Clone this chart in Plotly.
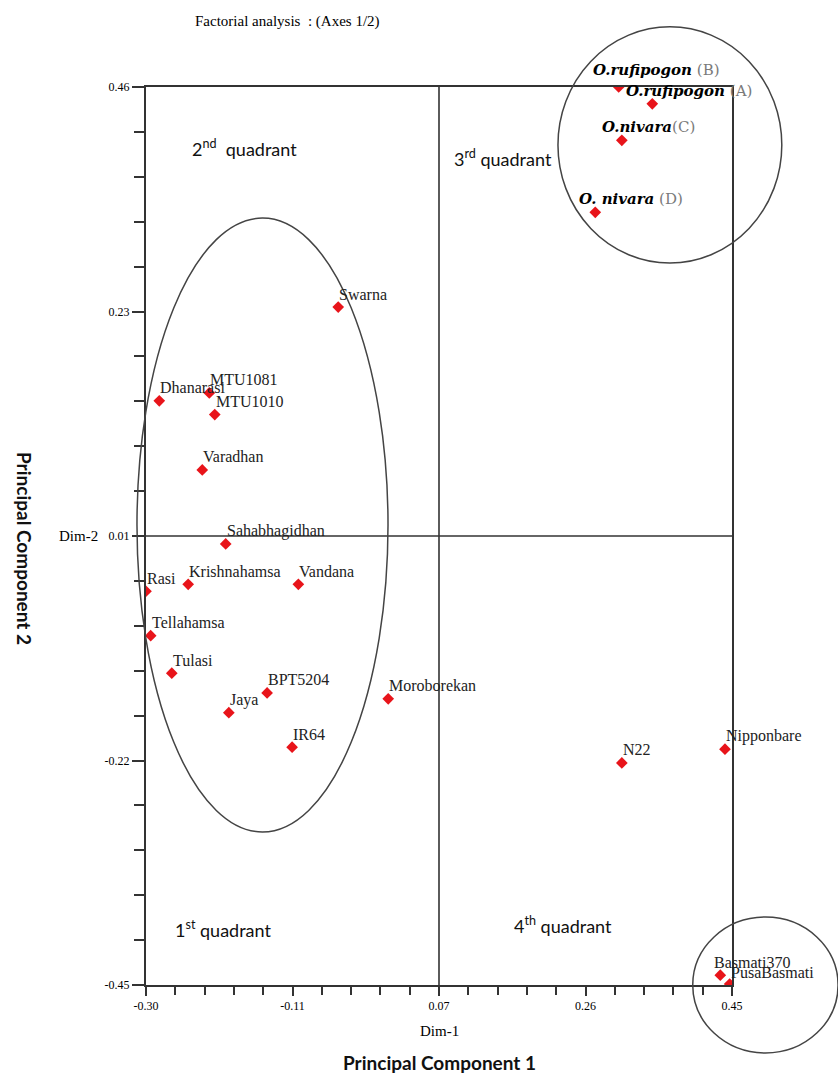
import plotly.graph_objects as go

# ---------------- data ----------------
genotypes = ["O.rufipogon (B)", "O.rufipogon (A)", "O.nivara (C)", "O. nivara (D)",
             "Swarna", "Dhanarasi", "MTU1081", "MTU1010", "Varadhan", "Sahabhagidhan",
             "Krishnahamsa", "Vandana", "Rasi", "Tellahamsa", "Tulasi", "BPT5204",
             "Jaya", "IR64", "Moroborekan", "N22", "Nipponbare", "Basmati370", "PusaBasmati"]
dim1 = [0.305, 0.348, 0.309, 0.275,
        -0.054, -0.283, -0.219, -0.212, -0.228, -0.198,
        -0.246, -0.105, -0.300, -0.294, -0.267, -0.145,
        -0.194, -0.113, 0.010, 0.309, 0.441, 0.435, 0.447]
dim2 = [0.460, 0.443, 0.406, 0.333,
        0.237, 0.142, 0.150, 0.128, 0.072, -0.003,
        -0.044, -0.044, -0.051, -0.096, -0.134, -0.154,
        -0.174, -0.209, -0.160, -0.225, -0.211, -0.440, -0.449]

x_tickvals = [-0.30, -0.1125, 0.075, 0.2625, 0.45]
x_ticktext = ["-0.30", "-0.11", "0.07", "0.26", "0.45"]
y_tickvals = [-0.45, -0.2225, 0.005, 0.2325, 0.46]
y_ticktext = ["-0.45", "-0.22", "0.01", "0.23", "0.46"]

# wild accessions shown in bold italic with a grey tag
wild_names = {"O.rufipogon (B)": ("O.rufipogon", " (B)"),
              "O.rufipogon (A)": ("O.rufipogon", " (A)"),
              "O.nivara (C)": ("O.nivara", "(C)"),
              "O. nivara (D)": ("O. nivara", " (D)")}
# label offsets (px) for labels not placed at the default spot
label_dx = {"O.rufipogon (B)": -28, "O.rufipogon (A)": -28,
            "O.nivara (C)": -22, "O. nivara (D)": -18,
            "Basmati370": -8}
label_dy = {"O.rufipogon (B)": 17, "PusaBasmati": 12}

SERIF = "Liberation Serif"
SANS = "Lato"
LINE = "#333333"

fig = go.Figure()
fig.add_trace(go.Scatter(
    x=dim1, y=dim2, mode="markers",
    marker=dict(symbol="diamond", size=9, color="#e8141a", line=dict(width=0)),
    hoverinfo="text", hovertext=genotypes, showlegend=False))

annotations = []
for name, xv, yv in zip(genotypes, dim1, dim2):
    if name in wild_names:
        base, tag = wild_names[name]
        txt = f"<b><i>{base}</i></b><span style='color:#7a7a7a'>{tag}</span>"
        fnt = dict(family="DejaVu Serif", size=15, color="black")
    else:
        txt = name
        fnt = dict(family=SERIF, size=16, color="#222222")
    annotations.append(dict(
        x=xv, y=yv, xref="x", yref="y", text=txt, showarrow=False,
        xanchor="left", yanchor="middle",
        xshift=label_dx.get(name, -1), yshift=label_dy.get(name, 13),
        font=fnt))

# titles and quadrant labels (positions in paper units of the plot box)
annotations += [
    dict(x=0.08, y=1.0, xref="paper", yref="paper", yshift=66, text="Factorial analysis  : (Axes 1/2)",
         showarrow=False, xanchor="left", yanchor="middle", font=dict(family=SERIF, size=15, color="black")),
    dict(x=0.5, y=0, xref="paper", yref="paper", yshift=-46, text="Dim-1",
         showarrow=False, xanchor="center", yanchor="middle", font=dict(family=SERIF, size=15, color="black")),
    dict(x=0.5, y=0, xref="paper", yref="paper", yshift=-77, text="<b>Principal Component 1</b>",
         showarrow=False, xanchor="center", yanchor="middle", font=dict(family=SANS, size=19, color="#111")),
    dict(x=0, y=0.5, xref="paper", yref="paper", xshift=-121, yshift=-12, text="<b>Principal Component 2</b>",
         showarrow=False, textangle=90, xanchor="center", yanchor="middle",
         font=dict(family=SANS, size=19, color="#111")),
    dict(x=0, y=0.005, xref="paper", yref="y", xshift=-68, text="Dim-2",
         showarrow=False, xanchor="center", yanchor="middle", font=dict(family=SERIF, size=15, color="black")),
    dict(x=(190 - 146) / 586, y=(985 - 148) / 898, xref="paper", yref="paper", text="2<sup>nd</sup>  quadrant",
         showarrow=False, xanchor="left", yanchor="middle", font=dict(family=SANS, size=18, color="#111")),
    dict(x=(452 - 146) / 586, y=(985 - 158) / 898, xref="paper", yref="paper", text="3<sup>rd</sup> quadrant",
         showarrow=False, xanchor="left", yanchor="middle", font=dict(family=SANS, size=18, color="#111")),
    dict(x=(173 - 146) / 586, y=(985 - 929) / 898, xref="paper", yref="paper", text="1<sup>st</sup> quadrant",
         showarrow=False, xanchor="left", yanchor="middle", font=dict(family=SANS, size=18, color="#111")),
    dict(x=(512 - 146) / 586, y=(985 - 925) / 898, xref="paper", yref="paper", text="4<sup>th</sup> quadrant",
         showarrow=False, xanchor="left", yanchor="middle", font=dict(family=SANS, size=18, color="#111")),
]

shapes = [
    # quadrant dividers
    dict(type="line", xref="x", yref="y", x0=0.075, x1=0.075, y0=-0.45, y1=0.46,
         line=dict(color=LINE, width=1.6)),
    dict(type="line", xref="x", yref="y", x0=-0.30, x1=0.45, y0=0.005, y1=0.005,
         line=dict(color=LINE, width=1.6)),
    # grouping ellipses
    dict(type="circle", xref="paper", yref="paper", x0=-0.0154, x1=0.413, y0=0.1704, y1=0.854,
         line=dict(color="#444", width=1.5)),
    dict(type="circle", xref="paper", yref="paper", x0=0.703, x1=1.085, y0=0.804, y1=1.067,
         line=dict(color="#444", width=1.5)),
    dict(type="circle", xref="paper", yref="paper", x0=0.933, x1=1.181, y0=-0.0757, y1=0.0757,
         line=dict(color="#444", width=1.5)),
]

axis_common = dict(showgrid=False, zeroline=False, showline=True, linecolor=LINE, linewidth=2,
                   mirror=True, ticks="outside", tickcolor=LINE, tickwidth=1.5,
                   tickfont=dict(family=SERIF, size=12, color="black"))

fig.update_layout(
    width=838, height=1079,
    margin=dict(l=146, r=106, t=87, b=94),
    paper_bgcolor="white", plot_bgcolor="white",
    xaxis=dict(range=[-0.30, 0.45], tickmode="array", tickvals=x_tickvals, ticktext=x_ticktext,
               ticklen=9, minor=dict(tickmode="linear", tick0=-0.30, dtick=0.0375, ticks="outside",
                                     ticklen=8, tickcolor=LINE, tickwidth=1.5),
               **axis_common),
    yaxis=dict(range=[-0.45, 0.46], tickmode="array", tickvals=y_tickvals, ticktext=y_ticktext,
               ticklen=12, minor=dict(tickmode="linear", tick0=-0.45, dtick=0.0455, ticks="outside",
                                      ticklen=10, tickcolor=LINE, tickwidth=1.5),
               **axis_common),
    shapes=shapes, annotations=annotations,
)

fig.write_html("out.html")
